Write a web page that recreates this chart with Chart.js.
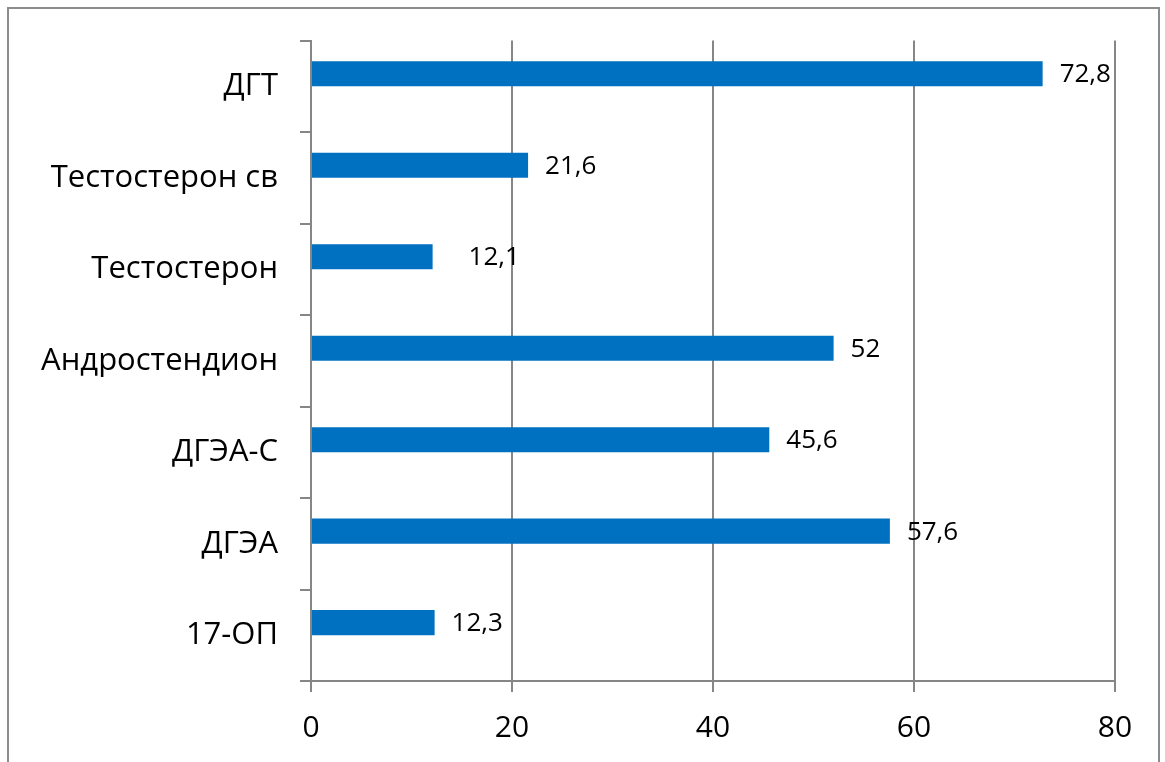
<!DOCTYPE html>
<html>
<head>
<meta charset="utf-8">
<script src="https://cdn.jsdelivr.net/npm/chart.js@4"></script>
<style>
  html, body { margin: 0; padding: 0; background: #fff; }
  .frame {
    position: absolute; left: 7px; top: 7px; width: 1153px; height: 770px;
    border: 2px solid #8c8c8c; box-sizing: border-box;
  }
  #wrap { position: absolute; left: 0; top: 0; width: 1165px; height: 762px; }
</style>
</head>
<body>
<div class="frame"></div>
<div id="wrap"><canvas id="hormoneChart"></canvas></div>
<script>
const categories = ['ДГТ', 'Тестостерон св', 'Тестостерон', 'Андростендион', 'ДГЭА-С', 'ДГЭА', '17-ОП'];
const values = [72.8, 21.6, 12.1, 52, 45.6, 57.6, 12.3];
// second series is empty, it only reserves the lower slot of each category
const emptySeries = [null, null, null, null, null, null, null];
const xTicks = [0, 20, 40, 60, 80];

const gridColor = '#868686';
const barColor = '#0070c0';

Chart.defaults.font.family = "'Open Sans', sans-serif";
Chart.defaults.color = '#000';

// value labels to the right of each bar
const valueLabels = {
    id: 'valueLabels',
    afterDatasetsDraw(chart) {
        const ctx = chart.ctx;
        const meta = chart.getDatasetMeta(0);
        ctx.save();
        ctx.font = "26px 'Open Sans', sans-serif";
        ctx.fillStyle = '#000';
        ctx.textAlign = 'left';
        ctx.textBaseline = 'middle';
        meta.data.forEach((bar, i) => {
            const shift = i === 2 ? 36 : 17;
            const text = String(values[i]).replace('.', ',');
            ctx.fillText(text, bar.x + shift, bar.y + 1);
        });
        ctx.restore();
    }
};

new Chart(document.getElementById('hormoneChart'), {
    type: 'bar',
    data: {
        labels: categories,
        datasets: [
            { data: values, backgroundColor: barColor, borderWidth: 0 },
            { data: emptySeries, backgroundColor: barColor, borderWidth: 0 }
        ]
    },
    options: {
        indexAxis: 'y',
        responsive: true,
        maintainAspectRatio: false,
        animation: false,
        categoryPercentage: 0.55,
        barPercentage: 1,
        layout: { padding: { top: 37, right: 50, left: 0, bottom: 0 } },
        plugins: {
            legend: { display: false },
            tooltip: { enabled: false }
        },
        scales: {
            x: {
                min: 0,
                max: 80,
                afterBuildTicks(scale) {
                    scale.ticks = xTicks.map(v => ({ value: v }));
                },
                afterFit(scale) { scale.height = 81; },
                grid: { color: gridColor, lineWidth: 2, tickLength: 11 },
                border: { color: gridColor, width: 2 },
                ticks: { font: { size: 30 }, padding: 18, maxRotation: 0 }
            },
            y: {
                afterFit(scale) { scale.width = 311; },
                grid: { drawOnChartArea: false, color: gridColor, lineWidth: 2, tickLength: 11, offset: true },
                border: { color: gridColor, width: 2 },
                ticks: { font: { size: 31 }, padding: 22 }
            }
        }
    },
    plugins: [valueLabels]
});
</script>
</body>
</html>
